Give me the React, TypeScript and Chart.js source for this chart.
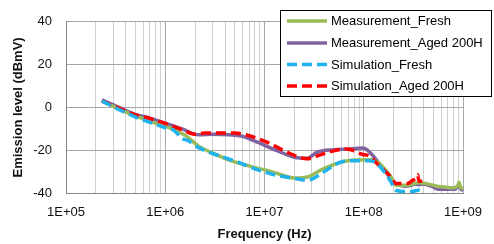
import React, { useEffect, useRef } from "react";
import { Chart, registerables } from "chart.js";

Chart.register(...registerables);

// ---- data ----
const xTickLabels = ["1E+05", "1E+06", "1E+07", "1E+08", "1E+09"];
const yTickValues = [-40, -20, 0, 20, 40];

const seriesNames = [
  "Measurement_Fresh",
  "Measurement_Aged 200H",
  "Simulation_Fresh",
  "Simulation_Aged 200H",
];
const seriesColors = ["#9BBB59", "#8064A2", "#1FB2EC", "#FF0000"];

const measFreshFreq = [2.3e5, 3e5, 5e5, 7e5, 1e6, 1.5e6, 1.7e6, 2.15e6, 2.9e6, 4.6e6, 7.9e6, 1.07e7, 1.35e7, 2e7, 2.7e7, 3.95e7, 6.7e7, 1.19e8, 1.39e8, 1.67e8, 1.88e8, 2.1e8, 2.65e8, 3e8, 3.57e8, 4.2e8, 5.3e8, 6.5e8, 7.8e8, 8.9e8, 9.1e8, 9.5e8, 1e9];
const measFreshVal = [3, 0.5, -4, -6.5, -8.8, -12.4, -14, -18, -21, -24.9, -28, -29.5, -30.9, -33, -32.5, -28.6, -25, -24.5, -25.6, -29.5, -32.5, -36.4, -36.4, -36, -35.2, -35.5, -36.7, -37.2, -37.6, -36.4, -35, -37.5, -38];

const measAgedFreq = [2.3e5, 3e5, 5e5, 7e5, 1e6, 1.5e6, 1.97e6, 2.2e6, 3e6, 5.8e6, 7.9e6, 1.35e7, 2e7, 2.7e7, 3.37e7, 5e7, 6.7e7, 9.8e7, 1.11e8, 1.49e8, 1.88e8, 2.1e8, 2.6e8, 3e8, 3.3e8, 3.6e8, 4e8, 4.9e8, 5.6e8, 7e8, 8.3e8, 9.1e8, 9.6e8, 1e9];
const measAgedVal = [3.5, 1.2, -3.3, -5, -7.4, -10.2, -12.5, -12.8, -12.6, -13.4, -15.7, -20.3, -23.3, -23.8, -21, -19.8, -19.5, -19, -20.3, -27.2, -33.3, -35.6, -36.8, -36.4, -35.8, -36.2, -35.8, -37, -38.2, -38.3, -38.2, -36.7, -38.5, -38.5];

const simFreshFreq = [2.3e5, 3e5, 5e5, 7e5, 1e6, 1.2e6, 1.5e6, 1.7e6, 2.15e6, 4.3e6, 5.4e6, 7.9e6, 1.35e7, 2e7, 2.7e7, 3.95e7, 5.3e7, 6.7e7, 1.11e8, 1.27e8, 1.6e8, 1.88e8, 2.1e8, 2.97e8, 3.57e8, 4e8];
const simFreshVal = [3, 0.3, -4.5, -7, -9.5, -10.5, -14.7, -15.5, -18.7, -24, -25.6, -28.6, -31.8, -33.2, -34, -30.2, -26.4, -25, -24.9, -25.3, -30, -34.8, -38.7, -39.4, -38.7, -39.6];

const simAgedFreq = [2.3e5, 3e5, 5e5, 7e5, 1e6, 1.5e6, 1.97e6, 2.5e6, 5e6, 7.9e6, 1.15e7, 1.58e7, 2.68e7, 3.6e7, 4.97e7, 6.7e7, 9.8e7, 1.11e8, 1.49e8, 1.88e8, 2.1e8, 2.77e8, 3.11e8, 3.4e8, 3.5e8, 3.6e8, 3.9e8];
const simAgedVal = [3, 0.8, -3.5, -5.2, -7.5, -10.5, -12.5, -12, -12, -14, -17, -20.3, -24, -22.3, -20.3, -19.4, -22, -22.6, -28, -32.5, -35.6, -35.6, -34, -33, -31.5, -34.5, -34.5];

const seriesFreqs = [measFreshFreq, measAgedFreq, simFreshFreq, simAgedFreq];
const seriesVals = [measFreshVal, measAgedVal, simFreshVal, simAgedVal];
const seriesDashed = [false, false, true, true];

const FONT = "'Liberation Sans', Arial, sans-serif";
const DASH = [10, 5];

function isDecade(v: number) {
  if (!v || v <= 0) return false;
  const e = Math.round(Math.log10(v));
  return Math.abs(v / Math.pow(10, e) - 1) < 1e-6;
}

const legendPlugin = {
  id: "boxLegend",
  afterDraw(chart: any) {
    const ctx = chart.ctx;
    ctx.save();
    const bx = 280.5, by = 10.5, bw = 211, bh = 86;
    ctx.fillStyle = "#ffffff";
    ctx.fillRect(bx, by, bw, bh);
    ctx.strokeStyle = "#000000";
    ctx.lineWidth = 1;
    ctx.setLineDash([]);
    ctx.strokeRect(bx, by, bw, bh);
    const rows = [21, 43, 64.5, 86];
    ctx.font = `13px ${FONT}`;
    ctx.textBaseline = "middle";
    ctx.textAlign = "left";
    chart.data.datasets.forEach((ds: any, i: number) => {
      const y = rows[i];
      ctx.beginPath();
      ctx.strokeStyle = ds.borderColor;
      ctx.lineWidth = 3.5;
      ctx.setLineDash(ds.borderDash || []);
      ctx.moveTo(287, y);
      ctx.lineTo(327, y);
      ctx.stroke();
      ctx.setLineDash([]);
      ctx.fillStyle = "#000000";
      ctx.fillText(ds.label, 331, y + 0.5);
    });
    ctx.restore();
  },
};

export default function App() {
  const ref = useRef<HTMLCanvasElement>(null);
  useEffect(() => {
    if (!ref.current) return;
    const datasets = seriesNames.map((name, i) => ({
      label: name,
      data: seriesFreqs[i].map((f, j) => ({ x: f, y: seriesVals[i][j] })),
      borderColor: seriesColors[i],
      backgroundColor: seriesColors[i],
      borderWidth: 3.5,
      borderDash: seriesDashed[i] ? DASH : [],
      pointRadius: 0,
      fill: false,
      cubicInterpolationMode: "monotone" as const,
      order: seriesDashed[i] ? 0 : 1,
    }));
    const chart = new Chart(ref.current, {
      type: "line",
      data: { datasets },
      plugins: [legendPlugin],
      options: {
        responsive: false,
        animation: false,
        layout: { padding: { left: 0, right: 26, top: 19, bottom: 0 } },
        plugins: { legend: { display: false }, tooltip: { enabled: false } },
        scales: {
          x: {
            type: "logarithmic",
            min: 1e5,
            max: 1e9,
            afterBuildTicks(scale: any) {
              const t: any[] = [];
              for (let e = 5; e <= 9; e++) {
                for (let s = 1; s <= 9; s++) {
                  const v = s * Math.pow(10, e);
                  if (v > 1e9) break;
                  t.push({ value: v, major: s === 1 });
                }
              }
              scale.ticks = t;
            },
            afterFit(scale: any) {
              scale.height = 51;
            },
            ticks: {
              autoSkip: false,
              maxRotation: 0,
              padding: 12,
              color: "#111111",
              font: { family: FONT, size: 13 },
              callback: (v: any) => {
                const n = Number(v);
                if (!isDecade(n)) return "";
                const e = Math.round(Math.log10(n));
                return xTickLabels[e - 5] ?? "";
              },
            },
            grid: {
              drawTicks: false,
              color: (c: any) => (isDecade(c.tick?.value) ? "#A6A6A6" : "#D0D0D0"),
              lineWidth: 1,
            },
            border: { display: true, color: "#868686", width: 1 },
            title: {
              display: true,
              text: "Frequency (Hz)",
              color: "#111111",
              font: { family: FONT, size: 13, weight: "bold" },
              padding: { top: 0, bottom: 2 },
            },
          },
          y: {
            type: "linear",
            min: -40,
            max: 40,
            afterBuildTicks(scale: any) {
              scale.ticks = yTickValues.map((v) => ({ value: v }));
            },
            afterFit(scale: any) {
              scale.width = 66;
            },
            ticks: {
              stepSize: 20,
              padding: 14,
              color: "#111111",
              font: { family: FONT, size: 13 },
            },
            grid: { drawTicks: false, color: "#A6A6A6", lineWidth: 1 },
            border: { display: true, color: "#868686", width: 1 },
            title: {
              display: true,
              text: "Emission level (dBmV)",
              color: "#111111",
              font: { family: FONT, size: 13, weight: "bold" },
              padding: { top: 11, bottom: 0 },
            },
          },
        },
      } as any,
    });
    return () => chart.destroy();
  }, []);
  return (
    <div style={{ position: "absolute", left: 0, top: 0, width: 494, height: 244 }}>
      <canvas ref={ref} width={494} height={244} style={{ display: "block" }} />
    </div>
  );
}
